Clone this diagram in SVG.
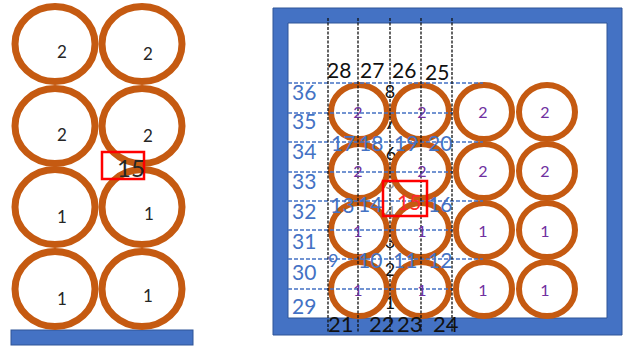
<svg xmlns="http://www.w3.org/2000/svg" width="625" height="350" viewBox="0 0 625 350">
<style>
.pipeL{fill:none;stroke:#C55A11;stroke-width:7}
.pipeR{fill:none;stroke:#C55A11;stroke-width:6}
.lblL{font-family:Lato,"Liberation Sans",sans-serif;font-size:17px;fill:#262626;text-anchor:middle}
.lblP{font-family:Lato,"Liberation Sans",sans-serif;font-size:16px;fill:#7030A0;text-anchor:middle}
.blk{font-family:Lato,"Liberation Sans",sans-serif;font-size:21px;fill:#111111}
.blu{font-family:Lato,"Liberation Sans",sans-serif;font-size:21px;fill:#4472C4}
.col{font-family:Lato,"Liberation Sans",sans-serif;font-size:18px;fill:#111111;text-anchor:middle}
.vdash{stroke:#111111;stroke-width:1.3;stroke-dasharray:3 1.5;fill:none}
.hdash{stroke:#4472C4;stroke-width:1.3;stroke-dasharray:4 2;fill:none}
.base{fill:#4472C4;stroke:#2F5597;stroke-width:1}
.hl{fill:none;stroke:#FF0000;stroke-width:2.5}
</style>

<!-- LEFT FIGURE -->
<rect id="base" class="base" x="11" y="330" width="182" height="15"/>
<g id="left-pipes">
  <g id="L11"><ellipse class="pipeL" cx="55" cy="44" rx="40" ry="37.5"/><text class="lblL" x="62" y="58">2</text></g>
  <g id="L12"><ellipse class="pipeL" cx="142" cy="44" rx="40" ry="37.5"/><text class="lblL" x="148" y="60">2</text></g>
  <g id="L21"><ellipse class="pipeL" cx="55" cy="126" rx="40" ry="37.5"/><text class="lblL" x="62" y="141">2</text></g>
  <g id="L22"><ellipse class="pipeL" cx="142" cy="126" rx="40" ry="37.5"/><text class="lblL" x="148" y="142">2</text></g>
  <g id="L31"><ellipse class="pipeL" cx="55" cy="207" rx="40" ry="37.5"/><text class="lblL" x="62" y="223">1</text></g>
  <g id="L32"><ellipse class="pipeL" cx="142" cy="207" rx="40" ry="37.5"/><text class="lblL" x="149" y="220">1</text></g>
  <g id="L41"><ellipse class="pipeL" cx="55" cy="289" rx="40" ry="37.5"/><text class="lblL" x="62" y="305">1</text></g>
  <g id="L42"><ellipse class="pipeL" cx="142" cy="289" rx="40" ry="37.5"/><text class="lblL" x="148" y="302">1</text></g>
</g>
<g id="left-marker">
  <rect class="hl" x="102" y="152" width="42" height="27"/>
  <text x="117" y="177" style="font-family:Lato,'Liberation Sans',sans-serif;font-size:24px;fill:#262626">15</text>
</g>

<!-- RIGHT FIGURE -->
<path id="frame" class="base" fill-rule="evenodd" d="M273 8H622V335H273Z M288 23V318H607V23Z"/>

<g id="col-numbers">
  <text class="col" x="390" y="98">8</text>
  <text class="col" x="390" y="129">7</text>
  <text class="col" x="391" y="160">6</text>
  <text class="col" x="390" y="189" opacity="0.45">5</text>
  <text class="col" x="390" y="219" opacity="0.45">4</text>
  <text class="col" x="390" y="248">3</text>
  <text class="col" x="390" y="276">2</text>
  <text class="col" x="390" y="309">1</text>
</g>

<g id="right-pipes">
  <g id="R11"><ellipse class="pipeR" cx="359" cy="112" rx="28" ry="27"/></g>
  <g id="R12"><ellipse class="pipeR" cx="421" cy="112" rx="28" ry="27"/></g>
  <g id="R13"><ellipse class="pipeR" cx="484" cy="112" rx="28" ry="27"/></g>
  <g id="R14"><ellipse class="pipeR" cx="547" cy="112" rx="28" ry="27"/></g>
  <g id="R21"><ellipse class="pipeR" cx="359" cy="171" rx="28" ry="27"/></g>
  <g id="R22"><ellipse class="pipeR" cx="421" cy="171" rx="28" ry="27"/></g>
  <g id="R23"><ellipse class="pipeR" cx="484" cy="171" rx="28" ry="27"/></g>
  <g id="R24"><ellipse class="pipeR" cx="547" cy="171" rx="28" ry="27"/></g>
  <g id="R31"><ellipse class="pipeR" cx="359" cy="230" rx="28" ry="27"/></g>
  <g id="R32"><ellipse class="pipeR" cx="421" cy="230" rx="28" ry="27"/></g>
  <g id="R33"><ellipse class="pipeR" cx="484" cy="230" rx="28" ry="27"/></g>
  <g id="R34"><ellipse class="pipeR" cx="547" cy="230" rx="28" ry="27"/></g>
  <g id="R41"><ellipse class="pipeR" cx="359" cy="289" rx="28" ry="27"/></g>
  <g id="R42"><ellipse class="pipeR" cx="421" cy="289" rx="28" ry="27"/></g>
  <g id="R43"><ellipse class="pipeR" cx="484" cy="289" rx="28" ry="27"/></g>
  <g id="R44"><ellipse class="pipeR" cx="547" cy="289" rx="28" ry="27"/></g>
</g>

<g id="connectors">
  <path class="hdash" d="M288 83H483 M288 113H453 M288 142H483 M288 172H453 M288 201H483 M288 230H453 M288 259H483 M288 289H453"/>
  <path class="vdash" d="M328 18V332 M358 18V332 M390 18V332 M421 18V332 M452 18V332"/>
</g>

<g id="pipe-labels">
  <text class="lblP" x="358" y="118">2</text><text class="lblP" x="422" y="118">2</text><text class="lblP" x="483" y="118">2</text><text class="lblP" x="545" y="118">2</text>
  <text class="lblP" x="358" y="177">2</text><text class="lblP" x="422" y="177">2</text><text class="lblP" x="483" y="177">2</text><text class="lblP" x="545" y="177">2</text>
  <text class="lblP" x="358" y="237">1</text><text class="lblP" x="422" y="237">1</text><text class="lblP" x="483" y="237">1</text><text class="lblP" x="545" y="237">1</text>
  <text class="lblP" x="358" y="296">1</text><text class="lblP" x="422" y="296">1</text><text class="lblP" x="483" y="296">1</text><text class="lblP" x="545" y="296">1</text>
</g>

<g id="top-labels">
  <text class="blk" x="327" y="78">28</text>
  <text class="blk" x="360" y="78">27</text>
  <text class="blk" x="392" y="78">26</text>
  <text class="blk" x="425" y="80">25</text>
</g>
<g id="bottom-labels">
  <text class="blk" x="328" y="332" style="font-size:22px">21</text>
  <text class="blk" x="369" y="332" style="font-size:22px">22</text>
  <text class="blk" x="397" y="332" style="font-size:22px">23</text>
  <text class="blk" x="433" y="332" style="font-size:22px">24</text>
</g>
<g id="row-labels">
  <text class="blu" x="292" y="100">36</text>
  <text class="blu" x="292" y="129">35</text>
  <text class="blu" x="292" y="159">34</text>
  <text class="blu" x="292" y="189">33</text>
  <text class="blu" x="292" y="219">32</text>
  <text class="blu" x="292" y="249">31</text>
  <text class="blu" x="292" y="280">30</text>
  <text class="blu" x="292" y="314">29</text>
</g>
<g id="node-labels">
  <text class="blu" x="331" y="151">17</text>
  <text class="blu" x="359" y="151">18</text>
  <text class="blu" x="394" y="151">19</text>
  <text class="blu" x="428" y="151">20</text>
  <text class="blu" x="330" y="213">13</text>
  <text class="blu" x="358" y="212">14</text>
  <text class="blu" x="428" y="212">16</text>
  <text class="blu" x="328" y="267" style="font-size:18px">9</text>
  <text class="blu" x="358" y="268">10</text>
  <text class="blu" x="393" y="268">11</text>
  <text class="blu" x="428" y="268">12</text>
</g>
<g id="right-marker">
  <rect class="hl" x="383" y="181" width="44" height="35"/>
  <text x="397" y="210" style="font-family:Lato,'Liberation Sans',sans-serif;font-size:21px;fill:#FF2A2A">15</text>
</g>
</svg>
